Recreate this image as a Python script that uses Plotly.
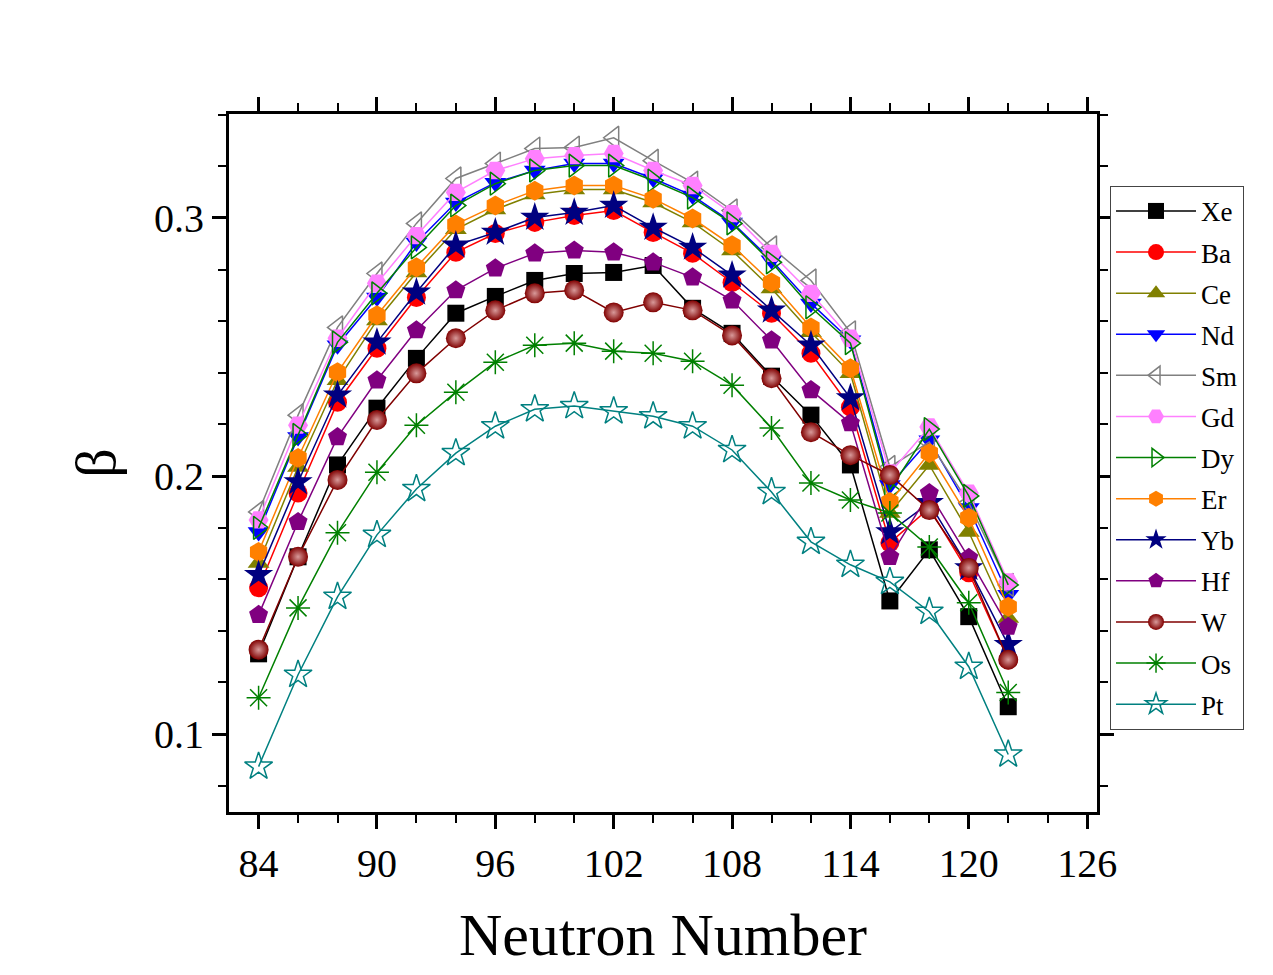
import plotly.graph_objects as go

neutrons = [84, 86, 88, 90, 92, 94, 96, 98, 100, 102, 104, 106, 108, 110, 112, 114, 116, 118, 120, 122]

xe = [0.1311, 0.1687, 0.2043, 0.2263, 0.2456, 0.2631, 0.2696, 0.2758, 0.2785, 0.2789, 0.2816, 0.2650, 0.2553, 0.2387, 0.2236, 0.2043, 0.1516, 0.1714, 0.1455, 0.1106]
ba = [0.1567, 0.1934, 0.2286, 0.2495, 0.2692, 0.2867, 0.2940, 0.2983, 0.3010, 0.3029, 0.2944, 0.2863, 0.2750, 0.2631, 0.2476, 0.2267, 0.1741, 0.1876, 0.1625, 0.1288]
ce = [0.1663, 0.2035, 0.2371, 0.2603, 0.2789, 0.2956, 0.3033, 0.3091, 0.3110, 0.3110, 0.3060, 0.2983, 0.2874, 0.2727, 0.2557, 0.2398, 0.1857, 0.2043, 0.1783, 0.1450]
nd = [0.1783, 0.2151, 0.2507, 0.2692, 0.2905, 0.3060, 0.3137, 0.3184, 0.3211, 0.3211, 0.3153, 0.3087, 0.2983, 0.2836, 0.2669, 0.2526, 0.1965, 0.2139, 0.1876, 0.1540]
sm = [0.1861, 0.2236, 0.2576, 0.2785, 0.2979, 0.3153, 0.3211, 0.3269, 0.3273, 0.3311, 0.3222, 0.3137, 0.3029, 0.2886, 0.2758, 0.2557, 0.2035, 0.2132, 0.1896, 0.1578]
gd = [0.1830, 0.2197, 0.2534, 0.2747, 0.2932, 0.3099, 0.3184, 0.3230, 0.3242, 0.3250, 0.3184, 0.3126, 0.3017, 0.2863, 0.2708, 0.2534, 0.2012, 0.2190, 0.1934, 0.1590]
dy = [0.1799, 0.2159, 0.2518, 0.2708, 0.2886, 0.3048, 0.3133, 0.3184, 0.3203, 0.3203, 0.3145, 0.3079, 0.2979, 0.2828, 0.2654, 0.2515, 0.1946, 0.2182, 0.1923, 0.1578]
er = [0.1706, 0.2070, 0.2402, 0.2623, 0.2809, 0.2975, 0.3048, 0.3106, 0.3126, 0.3126, 0.3075, 0.2998, 0.2894, 0.2750, 0.2576, 0.2418, 0.1899, 0.2089, 0.1838, 0.1493]
yb = [0.1617, 0.1977, 0.2313, 0.2518, 0.2712, 0.2894, 0.2944, 0.3002, 0.3021, 0.3048, 0.2963, 0.2886, 0.2778, 0.2642, 0.2507, 0.2302, 0.1783, 0.1896, 0.1644, 0.1346]
hf = [0.1462, 0.1822, 0.2151, 0.2371, 0.2565, 0.2720, 0.2805, 0.2863, 0.2874, 0.2867, 0.2828, 0.2770, 0.2681, 0.2526, 0.2333, 0.2205, 0.1687, 0.1934, 0.1683, 0.1416]
w = [0.1327, 0.1687, 0.1985, 0.2217, 0.2398, 0.2534, 0.2642, 0.2708, 0.2720, 0.2634, 0.2673, 0.2642, 0.2545, 0.2379, 0.2170, 0.2081, 0.2004, 0.1868, 0.1644, 0.1288]
os_ = [0.1141, 0.1489, 0.1780, 0.2015, 0.2197, 0.2325, 0.2441, 0.2507, 0.2515, 0.2484, 0.2476, 0.2445, 0.2352, 0.2186, 0.1973, 0.1907, 0.1857, 0.1725, 0.1509, 0.1161]
pt = [0.0874, 0.1230, 0.1532, 0.1772, 0.1950, 0.2089, 0.2193, 0.2259, 0.2271, 0.2251, 0.2232, 0.2193, 0.2101, 0.1938, 0.1745, 0.1656, 0.1590, 0.1474, 0.1261, 0.0921]

series = [
    ("Xe", xe, "#000000", "square", 17, None),
    ("Ba", ba, "#FF0000", "circle", 19, None),
    ("Ce", ce, "#808000", "triangle-up", 19, None),
    ("Nd", nd, "#0000FF", "triangle-down", 19, None),
    ("Sm", sm, "#808080", "triangle-left-open", 20, None),
    ("Gd", gd, "#FF80FF", "hexagon2", 20, None),
    ("Dy", dy, "#008000", "triangle-right-open", 20, None),
    ("Er", er, "#FF8000", "hexagon", 20, None),
    ("Yb", yb, "#000080", "star", 22, None),
    ("Hf", hf, "#800080", "pentagon", 20, None),
    ("W", w, "#800000", "circle", 20, "radial"),
    ("Os", os_, "#008000", "asterisk-open", 20, None),
    ("Pt", pt, "#008080", "star-open", 21, None),
]

fig = go.Figure()
for name, vals, color, symbol, size, grad in series:
    marker = dict(symbol=symbol, size=size, color=color,
                  line=dict(color=color, width=1.5 if "open" in symbol else 0))
    if grad:
        marker["gradient"] = dict(type="radial", color="#D89A9A")
    fig.add_trace(go.Scatter(x=neutrons, y=vals, name=name, legendgroup=name,
                             mode="lines+markers",
                             line=dict(color=color, width=1.5), marker=marker))

FONT = "Liberation Serif, Times New Roman, serif"
axis_common = dict(
    showline=True, linecolor="black", linewidth=3, mirror="allticks",
    ticks="outside", ticklen=14, tickwidth=3, tickcolor="black",
    showgrid=False, zeroline=False,
    tickfont=dict(family=FONT, size=40, color="black"),
)
fig.update_layout(
    width=1273, height=975,
    paper_bgcolor="white", plot_bgcolor="white",
    margin=dict(l=229, r=176, t=114, b=163),
    font=dict(family=FONT, color="black"),
    xaxis=dict(range=[82.5, 126.5], tickmode="array", tickvals=[84, 90, 96, 102, 108, 114, 120, 126],
               minor=dict(dtick=2, tick0=84, ticklen=8, tickwidth=2, ticks="outside", tickcolor="black"),
               title=dict(text="Neutron Number", font=dict(family=FONT, size=60), standoff=28),
               **axis_common),
    yaxis=dict(range=[0.0698, 0.3403], tickmode="array", tickvals=[0.1, 0.2, 0.3],
               minor=dict(dtick=0.02, tick0=0.0, ticklen=8, tickwidth=2, ticks="outside", tickcolor="black"),
               title=dict(text="β", font=dict(family=FONT, size=58), standoff=20),
               **axis_common),
    legend=dict(x=1.015, y=0.897, xanchor="left", yanchor="top",
                bordercolor="#444444", borderwidth=1, bgcolor="white",
                font=dict(family=FONT, size=27, color="black"),
                tracegroupgap=3, itemwidth=80),
)

fig.write_html("out.html")
